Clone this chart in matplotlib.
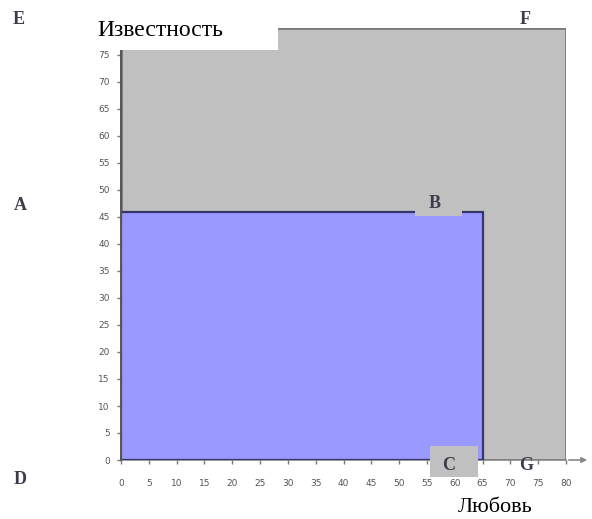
import matplotlib
matplotlib.use("Agg")
import matplotlib.pyplot as plt
from matplotlib.patches import Rectangle

# Regions: outer (maximum love / fame) and inner (current position)
outer_love, outer_fame = 80, 80
inner_love, inner_fame = 65, 46

x_ticks = list(range(0, 85, 5))
y_ticks = list(range(0, 80, 5))

x_title = "Любовь"
y_title = "Известность"

# point letters, positioned in pixels from the top-left corner
point_labels = {"E": (19, 20), "A": (20, 205), "D": (20, 480),
                "F": (525, 19), "B": (435, 204), "C": (449, 465), "G": (526, 465)}

W, H = 592, 519
fig = plt.figure(figsize=(W / 100, H / 100), dpi=100)


def fx(px):
    return px / W


def fy(py):
    return 1 - py / H


ax = fig.add_axes([fx(121), fy(460), (566 - 121) / W, (460 - 28) / H])

ax.bar(0, outer_fame, width=outer_love, align="edge", color="#c0c0c0",
       edgecolor="#7a7a7a", linewidth=2, zorder=1)
ax.bar(0, inner_fame, width=inner_love, align="edge", color="#9999ff",
       edgecolor="#35356e", linewidth=1.6, zorder=2)

ax.set_xlim(0, 80)
ax.set_ylim(0, 80)
ax.set_xticks(x_ticks)
ax.set_yticks(y_ticks)
ax.tick_params(axis="both", length=3, width=1, color="#777777",
               labelsize=6.5, labelcolor="#555555")
ax.tick_params(axis="x", pad=11)
ax.tick_params(axis="y", pad=5)
for s in ["top", "right"]:
    ax.spines[s].set_visible(False)
ax.spines["left"].set_color("#555555")
ax.spines["left"].set_linewidth(1.4)
ax.spines["bottom"].set_color("#888888")
ax.spines["bottom"].set_linewidth(1.2)
ax.spines["left"].set_zorder(3)
ax.spines["bottom"].set_zorder(0.5)

# x-axis arrow running past the plot
ax.annotate("", xy=(fx(590), fy(460)), xycoords="figure fraction",
            xytext=(fx(566), fy(460)), textcoords="figure fraction",
            arrowprops=dict(arrowstyle="-|>", color="#888888", lw=1.2,
                            mutation_scale=8))

# label patches behind B and C
fig.patches.append(Rectangle((fx(415), fy(216)), (462 - 415) / W, (216 - 194) / H,
                             transform=fig.transFigure, fc="#c0c0c0", ec="none",
                             zorder=4))
fig.patches.append(Rectangle((fx(430), fy(477)), (478 - 430) / W, (477 - 446) / H,
                             transform=fig.transFigure, fc="#c0c0c0", ec="none",
                             zorder=4))
# white panel behind the vertical-axis title
fig.patches.append(Rectangle((fx(90), fy(50)), (278 - 90) / W, (50 - 10) / H,
                             transform=fig.transFigure, fc="white", ec="none",
                             zorder=4))

for name, (px, py) in point_labels.items():
    fig.text(fx(px), fy(py), name, family="Liberation Serif", weight="bold",
             fontsize=13, color="#3c3c4c", ha="center", va="center", zorder=5)

fig.text(fx(97), fy(30), y_title, family="Liberation Serif",
         fontsize=17, color="black", ha="left", va="center", zorder=6)
fig.text(fx(495), fy(507), x_title, family="Liberation Serif",
         fontsize=16, color="black", ha="center", va="center", zorder=6)

fig.savefig("out.png", dpi=100)
